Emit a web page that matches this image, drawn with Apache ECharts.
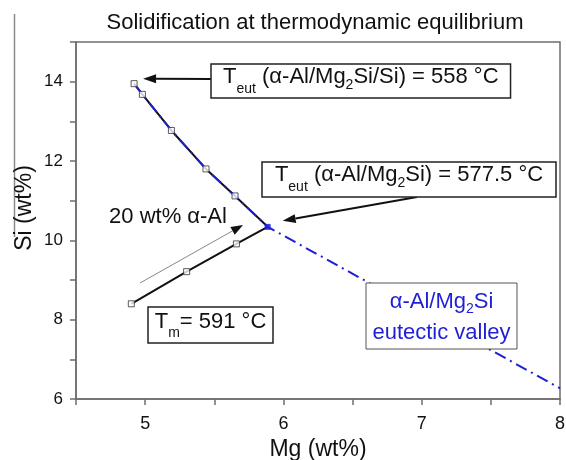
<!DOCTYPE html>
<html><head><meta charset="utf-8">
<script src="https://cdn.jsdelivr.net/npm/echarts@6/dist/echarts.min.js"></script>
<style>html,body{margin:0;padding:0;background:#fff}#c{width:566px;height:460px}</style>
</head><body><div id="c"></div>
<script>
// ---- data ----
const titleText = 'Solidification at thermodynamic equilibrium';
const xName = 'Mg (wt%)';
const yName = 'Si (wt%)';
const xTickLabels = ['5', '6', '7', '8'];
const yTickLabels = ['6', '8', '10', '12', '14'];
// alpha-Al/Mg2Si/Si side (upper branch)
const upperMg = [4.92, 4.98, 5.19, 5.44, 5.65, 5.886];
const upperSi = [13.95, 13.68, 12.77, 11.80, 11.12, 10.34];
// primary alpha-Al branch (lower)
const lowerMg = [4.90, 5.30, 5.66, 5.886];
const lowerSi = [8.40, 9.21, 9.91, 10.34];
// eutectic point
const eutMg = [5.886];
const eutSi = [10.34];
// eutectic valley extension
const valleyEndMg = [8.0];
const valleyEndSi = [6.27];

const FONT = '"Liberation Sans", Arial, sans-serif';
const BLUE = '#1f1fd6';

const zip = (a, b) => a.map((v, i) => [v, b[i]]);
const valleyMg = upperMg.concat(valleyEndMg);
const valleySi = upperSi.concat(valleyEndSi);
const markerPts = zip(upperMg.slice(0, -1), upperSi.slice(0, -1)).concat(zip(lowerMg.slice(0, -1), lowerSi.slice(0, -1)));

const chart = echarts.init(document.getElementById('c'), null, {renderer: 'canvas'});
const axisGray = '#6e6e6e';
const option = {
  animation: false,
  backgroundColor: '#fff',
  title: {text: titleText, left: 310, top: 7, textAlign: 'center',
    textStyle: {fontFamily: FONT, fontSize: 22, fontWeight: 'normal', color: '#111'}},
  grid: {left: 76, right: 6, top: 42, bottom: 61, containLabel: false, outerBoundsMode: 'none',
    show: true, borderColor: axisGray, borderWidth: 1.5, backgroundColor: 'transparent'},
  xAxis: {type: 'value', min: 4.5, max: 8, interval: 0.5,
    name: xName, nameLocation: 'middle', nameGap: 35,
    nameTextStyle: {fontFamily: FONT, fontSize: 23, color: '#111'},
    axisLine: {lineStyle: {color: axisGray, width: 1.5}},
    axisTick: {length: 6, lineStyle: {color: axisGray, width: 1.5}},
    splitLine: {show: false},
    axisLabel: {margin: 16, fontFamily: FONT, fontSize: 18, color: '#111',
      formatter: v => xTickLabels.includes(String(v)) ? String(v) : ''}},
  yAxis: {type: 'value', min: 6, max: 15, interval: 1,
    axisLine: {lineStyle: {color: axisGray, width: 1.5}},
    axisTick: {length: 6, lineStyle: {color: axisGray, width: 1.5}},
    splitLine: {show: false},
    axisLabel: {margin: 13, fontFamily: FONT, fontSize: 17, color: '#111',
      formatter: v => yTickLabels.includes(String(v)) ? String(v) : ''}},
  series: [
    {type: 'line', data: zip(lowerMg, lowerSi), showSymbol: false, symbol: 'none', z: 2,
      lineStyle: {color: '#111', width: 2}},
    {type: 'line', data: zip(upperMg, upperSi), showSymbol: false, symbol: 'none', z: 2,
      lineStyle: {color: '#111', width: 2}},
    {type: 'line', data: zip(valleyMg, valleySi), showSymbol: false, symbol: 'none', z: 3,
      lineStyle: {color: BLUE, width: 2, type: [12, 5, 2, 5]}},
    {type: 'scatter', data: markerPts, symbol: 'rect', symbolSize: 6, z: 5,
      itemStyle: {color: '#fff', borderColor: '#333', borderWidth: 1}},
    {type: 'scatter', data: zip(eutMg, eutSi), symbol: 'rect', symbolSize: 5, z: 5,
      itemStyle: {color: BLUE, borderColor: BLUE, borderWidth: 1}}
  ]
};
chart.setOption(option);

// ---- annotations ----
const mctx = document.createElement('canvas').getContext('2d');
function tw(t, size) { mctx.font = size + 'px ' + FONT; return mctx.measureText(t).width; }
const MAIN = 22, SUB = 14;
function lineWidthOf(parts) { return parts.reduce((s, p) => s + tw(p[0], p[1] ? SUB : MAIN), 0); }
function richLine(cx, cy, parts, color) {
  const els = [];
  let x = cx - lineWidthOf(parts) / 2;
  parts.forEach(p => {
    const size = p[1] ? SUB : MAIN;
    els.push({type: 'text', x: x, y: cy + (p[1] || 0), z: 20,
      style: {text: p[0], fontFamily: FONT, fontSize: size, fill: color || '#111', align: 'left', verticalAlign: 'middle'}});
    x += tw(p[0], size);
  });
  return els;
}
function box(x, y, w, h) {
  return {type: 'rect', z: 15, shape: {x: x, y: y, width: w, height: h},
    style: {fill: '#fff', stroke: '#222', lineWidth: 1.5}};
}
function arrow(x1, y1, x2, y2, color, width, headColor, hl, hw) {
  const a = Math.atan2(y2 - y1, x2 - x1);
  const bx = x2 - hl * Math.cos(a), by = y2 - hl * Math.sin(a);
  const px = -Math.sin(a) * hw / 2, py = Math.cos(a) * hw / 2;
  return [
    {type: 'line', z: 14, shape: {x1: x1, y1: y1, x2: bx, y2: by}, style: {stroke: color, lineWidth: width}},
    {type: 'polygon', z: 14, shape: {points: [[x2, y2], [bx + px, by + py], [bx - px, by - py]]}, style: {fill: headColor}}
  ];
}
const g = [];
// stray edge line in the picture
g.push({type: 'line', z: 1, shape: {x1: 14.5, y1: 14, x2: 14.5, y2: 237}, style: {stroke: '#8a8a8a', lineWidth: 1.5}});
// y axis name
g.push({type: 'text', x: 25, y: 208, rotation: Math.PI / 2, z: 10,
  style: {text: yName, fontFamily: FONT, fontSize: 23, fill: '#111', align: 'center', verticalAlign: 'middle'}});

const pTop = chart.convertToPixel({gridIndex: 0}, [upperMg[0], upperSi[0]]);
const pEut = chart.convertToPixel({gridIndex: 0}, [eutMg[0], eutSi[0]]);

// box 1
const t1 = [['T'], ['eut', 12], [' (α-Al/Mg'], ['2', 8], ['Si/Si) = 558 °C']];
const w1 = lineWidthOf(t1) + 24;
g.push(...arrow(211, 79, pTop[0] + 9, pTop[1] - 5, '#111', 2, '#111', 13, 9));
g.push(box(211, 64, w1, 34));
g.push(...richLine(211 + w1 / 2, 77, t1));
// box 2
g.push(...arrow(417, 197, pEut[0] + 15, pEut[1] - 6, '#111', 2, '#111', 13, 9));
g.push(box(262, 162, 294, 35));
g.push(...richLine(262 + 147, 175, [['T'], ['eut', 12], [' (α-Al/Mg'], ['2', 8], ['Si) = 577.5 °C']]));
// 20 wt% alpha-Al
g.push(...arrow(140, 283, 243, 225, '#888', 1, '#111', 12, 9));
g.push(...richLine(168, 217, [['20 wt% α-Al']]));
// Tm box
g.push(box(148, 307, 125, 36));
g.push(...richLine(148 + 62.5, 321.5, [['T'], ['m', 12], ['= 591 °C']]));
// valley box
g.push({type: 'rect', z: 15, shape: {x: 366, y: 283, width: 151, height: 66}, style: {fill: '#fff', stroke: '#555', lineWidth: 1}});
g.push(...richLine(441.5, 301.5, [['α-Al/Mg'], ['2', 8], ['Si']], BLUE));
g.push(...richLine(441.5, 333, [['eutectic valley']], BLUE));

chart.setOption({graphic: {elements: g}});
</script></body></html>
